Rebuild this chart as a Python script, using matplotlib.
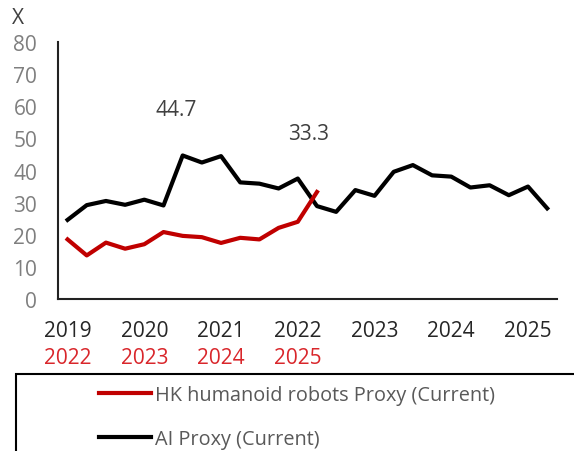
import numpy as np
import matplotlib.pyplot as plt
from matplotlib.patches import Rectangle
from matplotlib.lines import Line2D

plt.rcParams['font.family'] = ['Open Sans', 'DejaVu Sans']

# quarterly values, AI proxy 2019Q1 - 2025Q2
ai_proxy = [24.6, 29.2, 30.5, 29.3, 30.9, 29.1, 44.7, 42.5, 44.5, 36.3, 35.9, 34.4, 37.5,
            28.9, 27.1, 33.9, 32.1, 39.6, 41.7, 38.5, 38.1, 34.7, 35.4, 32.3, 35.0, 28.2]
# HK humanoid robots proxy 2022Q1 - 2025Q2 (shifted back 3 years)
hk_robots = [18.5, 13.5, 17.5, 15.6, 17.0, 20.8, 19.6, 19.2, 17.4, 19.0, 18.5, 22.1, 24.0, 33.3]
years_ai = ['2019', '2020', '2021', '2022', '2023', '2024', '2025']
years_hk = ['2022', '2023', '2024', '2025']

fig = plt.figure(figsize=(5.74, 4.52), dpi=100)
ax = fig.add_axes([0.101, 0.337, 0.869, 0.567])

x_ai = np.arange(len(ai_proxy))
x_hk = np.arange(len(hk_robots))
ax.plot(x_ai, ai_proxy, color='black', lw=3)
ax.plot(x_hk, hk_robots, color='#c00000', lw=3)

ax.set_xlim(-0.5, 25.5)
ax.set_ylim(0, 80)
ax.set_yticks(range(0, 81, 10))
ax.tick_params(axis='y', length=0, pad=15, labelsize=15, labelcolor='#7f7f7f')
ax.set_xticks(range(0, 25, 4))
ax.set_xticklabels(years_ai)
ax.tick_params(axis='x', length=0, pad=15, labelsize=15, labelcolor='#262626')
for s in ['top', 'right']:
    ax.spines[s].set_visible(False)
for s in ['left', 'bottom']:
    ax.spines[s].set_linewidth(1.5)
    ax.spines[s].set_color('#222222')

# second row of year labels for the robots series
for i, yr in enumerate(years_hk):
    ax.text(i * 4, -0.23, yr, transform=ax.get_xaxis_transform(), ha='center', va='center',
            fontsize=15, color='#d9262b')

# data labels
ax.annotate('44.7', (6, ai_proxy[6]), xytext=(-5, 33), textcoords='offset points',
            ha='center', va='center', fontsize=15, color='#404040')
ax.annotate('33.3', (13, hk_robots[-1]), xytext=(-6, 42), textcoords='offset points',
            ha='center', va='center', fontsize=15, color='#404040')

fig.text(18 / 574, 1 - 18 / 452, 'X', ha='center', va='center', fontsize=15, color='#404040')

# legend box
fig.patches.append(Rectangle((16 / 574, -0.1), 1.0, 1 - 375 / 452 + 0.1, transform=fig.transFigure,
                             fill=False, ec='black', lw=1.5))
handles = [Line2D([], [], color='#c00000', lw=3), Line2D([], [], color='black', lw=3)]
fig.legend(handles, ['HK humanoid robots Proxy (Current)', 'AI Proxy (Current)'],
           loc='upper left', bbox_to_anchor=(99 / 574, 1 - 386 / 452), frameon=False,
           borderpad=0, borderaxespad=0, handlelength=2.6, handletextpad=0.2,
           labelspacing=1.2, fontsize=14.3, labelcolor='#595959')

fig.savefig('out.png', dpi=100)
